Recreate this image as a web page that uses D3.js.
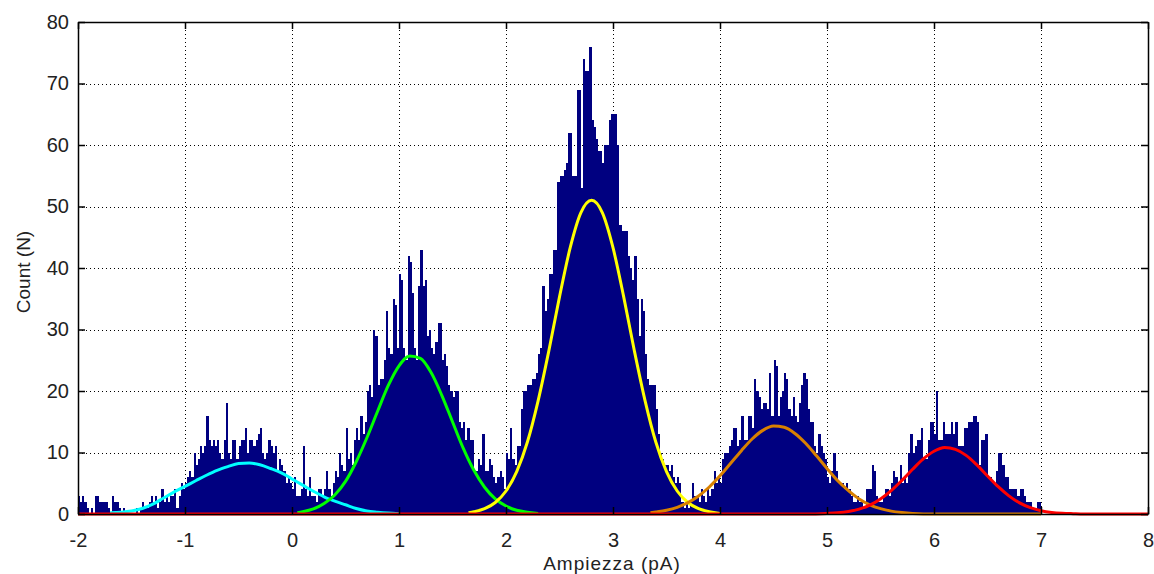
<!DOCTYPE html>
<html>
<head>
<meta charset="utf-8">
<script src="https://cdn.jsdelivr.net/npm/d3@7"></script>
<style>
  body { margin: 0; background: #fff; }
  text { font-family: "Liberation Sans", Arial, sans-serif; }
</style>
</head>
<body>
<script>
// histogram: bins of 0.02 pA starting at -2
let binStart = -2,
    binWidth = 0.02;

let counts = [
  3,2,3,2,1,0,1,0,3,3,2,2,2,2,1,0,3,2,2,1,0,1,0,0,0,
  0,0,1,0,1,2,1,1,2,3,2,3,1,2,4,2,3,2,3,3,4,1,3,5,4,
  5,6,7,6,10,8,9,11,10,11,16,12,11,12,11,12,10,9,12,18,10,9,12,12,9,
  11,12,12,14,10,12,12,11,12,13,14,10,9,10,12,11,10,11,7,9,8,7,5,6,5,
  4,6,3,3,4,11,4,3,6,3,3,2,4,4,3,4,7,4,3,5,7,6,10,8,7,
  14,9,10,8,12,14,12,16,13,15,20,21,19,30,29,21,22,22,25,33,27,26,35,34,27,
  39,38,27,25,42,41,36,27,25,37,43,37,38,29,30,27,26,28,31,31,25,26,24,21,20,
  19,20,20,15,14,15,12,14,12,12,7,7,9,8,13,7,7,9,8,6,5,6,7,6,4,
  10,9,14,9,8,11,11,17,20,20,21,21,22,22,23,26,27,37,33,35,39,39,43,43,54,
  55,55,56,57,62,62,55,55,69,69,53,74,72,72,76,64,63,61,59,59,57,60,60,64,65,
  65,65,60,47,46,46,46,42,40,38,42,35,29,35,33,26,22,21,21,21,17,13,10,9,8,
  8,7,8,6,5,6,5,2,1,2,1,2,5,3,3,2,4,3,2,4,3,4,7,5,6,
  5,9,10,10,11,12,14,14,11,12,16,12,12,16,16,14,22,20,19,17,18,18,17,23,16,
  25,24,16,19,20,23,22,17,16,19,16,15,18,21,23,22,17,15,15,11,10,13,11,10,9,
  6,5,7,10,7,5,5,5,4,5,4,3,2,2,3,2,2,1,4,4,4,8,7,3,2,
  2,3,4,4,3,5,7,6,5,8,5,6,5,10,13,10,11,12,12,14,9,9,12,15,15,
  13,20,12,12,15,13,13,13,15,13,15,11,11,11,14,14,15,15,16,16,15,8,12,12,13,
  6,6,5,5,7,10,10,8,6,6,4,4,4,4,3,4,4,3,2,2,2,1,1,2,2
];

// gaussian fits, points
let fitCyan = [[-1.7,0.2],[-1.6,0.3],[-1.5,0.5],[-1.4,0.9],[-1.3,1.6],[-1.2,2.6],[-1.1,3.6],[-1.0,4.5],[-0.9,5.4],[-0.8,6.3],[-0.7,7.1],[-0.6,7.7],[-0.5,8.2],[-0.4,8.3],[-0.3,8.0],[-0.2,7.4],[-0.1,6.7],[0.0,5.7],[0.1,4.7],[0.2,3.7],[0.3,2.8],[0.4,2.1],[0.5,1.5],[0.6,0.9],[0.7,0.5],[0.8,0.3],[0.9,0.15],[1.0,0.05]];
let fitGreen = [[0.05,0.2],[0.1,0.38],[0.2,0.83],[0.3,1.7],[0.4,3.1],[0.5,5.3],[0.6,8.5],[0.7,12.4],[0.8,16.7],[0.9,20.9],[1.0,24.1],[1.1,25.7],[1.2,25.3],[1.3,23.0],[1.4,19.3],[1.5,15.0],[1.6,10.7],[1.7,7.1],[1.8,4.35],[1.9,2.45],[2.0,1.3],[2.1,0.6],[2.2,0.28],[2.3,0.1]];
let fitYellow = [[1.65,0.2],[1.7,0.37],[1.8,0.86],[1.9,1.87],[2.0,3.74],[2.1,6.9],[2.2,11.7],[2.3,18.4],[2.4,26.5],[2.5,35.3],[2.6,43.3],[2.7,49.0],[2.8,51.0],[2.9,49.0],[3.0,43.3],[3.1,35.3],[3.2,26.5],[3.3,18.4],[3.4,11.7],[3.5,6.9],[3.6,3.74],[3.7,1.87],[3.8,0.86],[3.9,0.37],[4.0,0.1]];
let fitOrange = [[3.35,0.2],[3.4,0.32],[3.5,0.61],[3.6,1.09],[3.7,1.84],[3.8,2.93],[3.9,4.39],[4.0,6.2],[4.1,8.25],[4.2,10.3],[4.3,12.2],[4.4,13.6],[4.5,14.3],[4.6,14.1],[4.7,13.1],[4.8,11.5],[4.9,9.5],[5.0,7.4],[5.1,5.4],[5.2,3.8],[5.3,2.45],[5.4,1.5],[5.5,0.87],[5.6,0.47],[5.7,0.24],[5.8,0.1],[6.0,0],[7.0,0]];
let fitRed = [[-2,0],[4.8,0],[5.0,0.09],[5.1,0.19],[5.2,0.41],[5.3,0.8],[5.4,1.46],[5.5,2.45],[5.6,3.8],[5.7,5.47],[5.8,7.27],[5.9,8.96],[6.0,10.2],[6.1,10.8],[6.2,10.5],[6.3,9.53],[6.4,7.98],[6.5,6.19],[6.6,4.44],[6.7,2.95],[6.8,1.81],[6.9,1.03],[7.0,0.54],[7.1,0.26],[7.2,0.12],[7.3,0.05],[7.4,0],[8,0]];

let xTicks = [-2,-1,0,1,2,3,4,5,6,7,8];
let yTicks = [0,10,20,30,40,50,60,70,80];

let w = 1154, h = 574;
let padL = 78, padR = 1148, padT = 22, padB = 514;

let svg = d3.select('body')
    .append('svg')
    .attr('width', w)
    .attr('height', h);

let x = d3.scaleLinear().domain([-2, 8]).range([padL, padR]);
let y = d3.scaleLinear().domain([0, 80]).range([padB, padT]);

// dotted grid, under the bars
let grid = svg.append('g').attr('class', 'grid');
grid.selectAll('.gx')
    .data(xTicks)
    .enter()
    .append('line')
    .attr('x1', d => Math.round(x(d)) + 0.5)
    .attr('x2', d => Math.round(x(d)) + 0.5)
    .attr('y1', padT)
    .attr('y2', padB)
    .attr('stroke', '#000')
    .attr('stroke-dasharray', '1,3');
grid.selectAll('.gy')
    .data(yTicks)
    .enter()
    .append('line')
    .attr('y1', d => Math.round(y(d)) + 0.5)
    .attr('y2', d => Math.round(y(d)) + 0.5)
    .attr('x1', padL)
    .attr('x2', padR)
    .attr('stroke', '#000')
    .attr('stroke-dasharray', '1,3');

// bars
svg.append('g')
    .selectAll('rect')
    .data(counts)
    .enter()
    .append('rect')
    .attr('x', (d, i) => x(binStart + i * binWidth))
    .attr('width', (d, i) => x(binStart + (i + 1) * binWidth) - x(binStart + i * binWidth))
    .attr('y', d => y(d))
    .attr('height', d => y(0) - y(d))
    .attr('fill', '#000080')
    .attr('shape-rendering', 'crispEdges');

// fit curves
let line = d3.line()
    .x(d => x(d[0]))
    .y(d => y(d[1]))
    .curve(d3.curveMonotoneX);

let fits = [
  [fitCyan, '#00ffff'],
  [fitGreen, '#00ff00'],
  [fitYellow, '#ffff00'],
  [fitOrange, '#d98000'],
  [fitRed, '#ff0000']
];
fits.forEach(f => {
  svg.append('path')
     .datum(f[0])
     .attr('d', line)
     .attr('fill', 'none')
     .attr('stroke', f[1])
     .attr('stroke-width', 3)
     .attr('stroke-linejoin', 'round');
});

// axes, ticks inside like matlab
let xAxis = svg.append('g')
    .attr('transform', `translate(0,${padB})`)
    .call(d3.axisBottom(x).tickValues(xTicks).tickSizeInner(-7).tickSizeOuter(0).tickPadding(19).tickFormat(d => d));
let yAxis = svg.append('g')
    .attr('transform', `translate(${padL},0)`)
    .call(d3.axisLeft(y).tickValues(yTicks).tickSizeInner(-7).tickSizeOuter(0).tickPadding(9));
svg.append('g')
    .attr('transform', `translate(0,${padT})`)
    .call(d3.axisTop(x).tickValues(xTicks).tickSizeInner(-7).tickSizeOuter(0).tickFormat(''));
svg.append('g')
    .attr('transform', `translate(${padR},0)`)
    .call(d3.axisRight(y).tickValues(yTicks).tickSizeInner(-7).tickSizeOuter(0).tickFormat(''));

svg.selectAll('.domain').attr('stroke', '#000').attr('stroke-width', 1.5);
svg.selectAll('.tick line').attr('stroke', '#000').attr('stroke-width', 1.5);
svg.selectAll('.tick text')
    .style('font-size', '20px')
    .style('font-family', '"Liberation Sans", Arial, sans-serif')
    .attr('fill', '#222');

svg.append('text')
    .text('Ampiezza (pA)')
    .attr('x', 612)
    .attr('y', 570)
    .style('text-anchor', 'middle')
    .style('font-size', '19px')
    .style('letter-spacing', '1px')
    .attr('fill', '#222');

svg.append('text')
    .text('Count (N)')
    .attr('transform', `translate(30,272) rotate(-90)`)
    .style('text-anchor', 'middle')
    .style('font-size', '19px')
    .attr('fill', '#222');
</script>
</body>
</html>
